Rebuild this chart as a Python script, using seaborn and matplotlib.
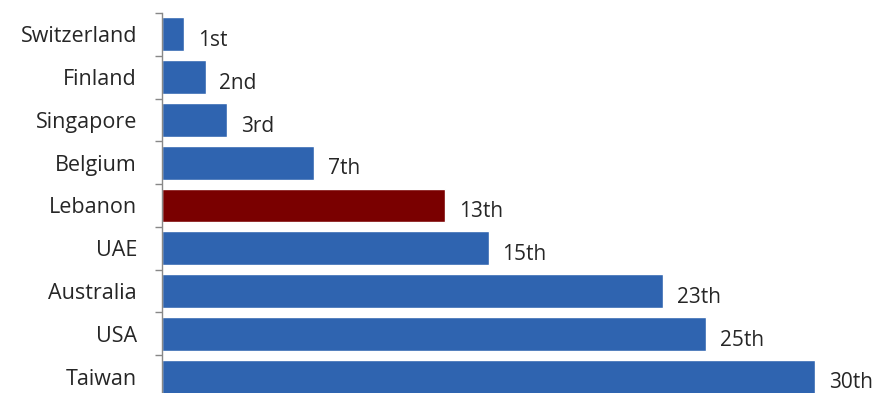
import numpy as np
import pandas as pd
import seaborn as sns
import matplotlib.pyplot as plt

# Data
countries = ['Switzerland', 'Finland', 'Singapore', 'Belgium', 'Lebanon',
             'UAE', 'Australia', 'USA', 'Taiwan']
ranks = [1, 2, 3, 7, 13, 15, 23, 25, 30]
rank_labels = ['1st', '2nd', '3rd', '7th', '13th', '15th', '23th', '25th', '30th']
bar_colors = ['#2f64b0', '#2f64b0', '#2f64b0', '#2f64b0', '#7a0000',
              '#2f64b0', '#2f64b0', '#2f64b0', '#2f64b0']

df = pd.DataFrame({'country': countries, 'rank': ranks})

sns.set_style('white')
plt.rcParams['font.family'] = ['Open Sans', 'DejaVu Sans']

fig = plt.figure(figsize=(8.79, 3.93), dpi=100)
ax = fig.add_axes([162 / 879, -5 / 393, 717 / 879, 385 / 393])

sns.barplot(data=df, x='rank', y='country', hue='country', palette=bar_colors,
            orient='h', width=0.79, legend=False, ax=ax, saturation=1)

# Rank labels to the right of each bar, sitting a little low like the original
for i, (r, lab) in enumerate(zip(ranks, rank_labels)):
    ax.annotate(lab, xy=(r, i), xytext=(10, -4.5), textcoords='offset points',
                ha='left', va='center', fontsize=15, color='#262626')

ax.set_xlim(0, 32.94)
ax.set_ylim(len(countries) - 0.5, -0.5)
ax.set_xlabel('')
ax.set_ylabel('')
ax.set_xticks([])

# Tick marks between categories, as in the original
ax.set_yticks(np.arange(-0.5, len(countries), 1), minor=True)
ax.tick_params(axis='y', which='major', length=0, pad=18, labelsize=15.5,
               labelcolor='#262626')
ax.tick_params(axis='y', which='minor', length=5, width=1, color='#888888',
               direction='out', left=True)

for side in ['top', 'right', 'bottom']:
    ax.spines[side].set_visible(False)
ax.spines['left'].set_color('#888888')
ax.spines['left'].set_linewidth(1)

fig.savefig('out.png', dpi=100)
